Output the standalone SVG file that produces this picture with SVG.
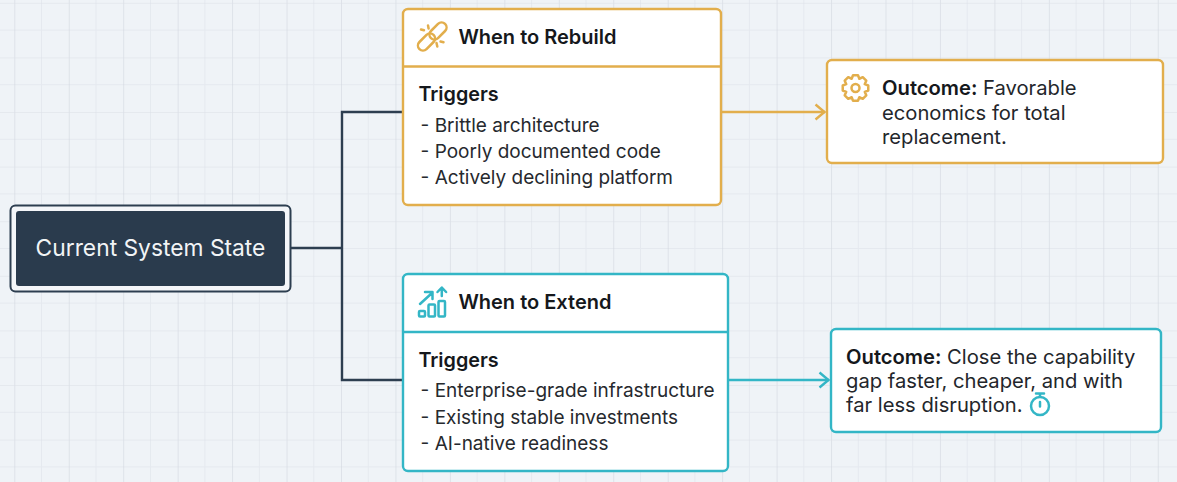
<svg xmlns="http://www.w3.org/2000/svg" width="1177" height="482" viewBox="0 0 1177 482">
<defs>
<pattern id="grid" patternUnits="userSpaceOnUse" x="14.3" y="2.8" width="54.45" height="54.6">
<path d="M27.2 0V54.6M0 27.3H54.45" fill="none" stroke="#e5e9ef" stroke-width="1"/>
<path d="M0 0V54.6" fill="none" stroke="#d2d7df" stroke-width="1.2"/>
<path d="M0 0H54.45" fill="none" stroke="#dbdfe6" stroke-width="1.2"/>
</pattern>
<marker id="arrowGold" viewBox="0 0 14 18" refX="12.5" refY="9" markerWidth="14" markerHeight="18" markerUnits="userSpaceOnUse" orient="auto"><path d="M3 1.500L12 9L3 16.500" fill="none" stroke="#e2ae4c" stroke-width="2.400"/></marker>
<marker id="arrowTeal" viewBox="0 0 14 18" refX="12.5" refY="9" markerWidth="14" markerHeight="18" markerUnits="userSpaceOnUse" orient="auto"><path d="M3 1.500L12 9L3 16.500" fill="none" stroke="#33b6c6" stroke-width="2.400"/></marker>
</defs>
<style>
text{font-family:Inter,"Liberation Sans",sans-serif;fill:#23262b;font-size:20.200px}
.title{font-weight:600;fill:#15181c;font-size:20px}
.head{font-weight:600;fill:#15181c;font-size:19.800px}
.body{fill:#26292e;font-size:19px}
.box{fill:#fff;stroke-width:2.400}
.gold{stroke:#e2ae4c}
.teal{stroke:#33b6c6}
.icon{fill:none;stroke-width:2.500;stroke-linecap:round;stroke-linejoin:round}
.link{fill:none;stroke-width:2.400}
</style>
<rect width="1177" height="482" fill="#eff3f7"/>
<rect width="1177" height="482" fill="url(#grid)"/>
<g id="connectors">
<path class="link" stroke="#2d3e50" d="M290 248H342M403 112H342V380H403"/>
<path class="link gold" d="M722 112H825" marker-end="url(#arrowGold)"/>
<path class="link teal" d="M728 380H829" marker-end="url(#arrowTeal)"/>
</g>
<g id="node-current">
<rect x="10.500" y="205.500" width="280" height="86" rx="5" fill="#f4f6f9" stroke="#2d3e50" stroke-width="2"/>
<rect x="16" y="211" width="269" height="75" rx="3" fill="#2a3b4d"/>
<text x="150.500" y="255.800" text-anchor="middle" style="fill:#f2f4f6;font-size:22.800px">Current System State</text>
</g>
<g id="node-rebuild">
<rect class="box gold" x="403" y="9" width="318" height="196" rx="5"/>
<path class="gold" stroke-width="2.400" d="M403 66.500H721"/>
<g class="icon gold">
<rect x="-10" y="-5" width="20" height="10" rx="5" transform="translate(438 31) rotate(-45)"/>
<rect x="-10" y="-5" width="20" height="10" rx="5" transform="translate(426.500 42) rotate(-45)"/>
<path d="M421 29.500l3 .8M428 25.500l.6 3M436.500 43l.8 3.500M440.500 41.500l3 .8"/>
</g>
<text class="title" x="458.400" y="43.500">When to Rebuild</text>
<text class="head" x="418.400" y="101">Triggers</text>
<text class="body" x="420.600" y="131.500">- Brittle architecture</text>
<text class="body" x="420.600" y="157.500">- Poorly documented code</text>
<text class="body" x="420.600" y="183.500">- Actively declining platform</text>
</g>
<g id="node-extend">
<rect class="box teal" x="403" y="274" width="325" height="197" rx="5"/>
<path class="teal" stroke-width="2.400" d="M403 332H728"/>
<g class="icon teal">
<rect x="419" y="311" width="6" height="5.500" rx="1"/>
<rect x="428.500" y="304.500" width="6.500" height="12" rx="1"/>
<rect x="438.500" y="301" width="6.500" height="15.500" rx="1"/>
<path d="M420 304l12-11M425 292h7.500v7M441.800 296v-8M437.500 292l4.300-4.500 4.300 4.500"/>
</g>
<text class="title" x="458.400" y="309">When to Extend</text>
<text class="head" x="418.400" y="367">Triggers</text>
<text class="body" x="420.600" y="397">- Enterprise-grade infrastructure</text>
<text class="body" x="420.600" y="423.500">- Existing stable investments</text>
<text class="body" x="420.600" y="449.500">- AI-native readiness</text>
</g>
<g id="node-outcome-rebuild">
<rect class="box gold" x="827" y="60" width="336" height="103" rx="5"/>
<g class="icon gold" transform="translate(855.500 88)">
<path d="M9.240 3.830L10.780 7.270 7.270 10.780 3.830 9.240 2.480 12.760-2.480 12.760-3.830 9.240-7.270 10.780-10.780 7.270-9.240 3.830-12.760 2.480-12.760-2.480-9.240-3.830-10.780-7.270-7.270-10.780-3.830-9.240-2.480-12.760 2.480-12.760 3.830-9.240 7.270-10.780 10.780-7.270 9.240-3.830 12.760-2.480 12.760 2.480Z"/>
<circle r="4"/>
</g>
<text x="882" y="94.500"><tspan class="head" style="font-size:20.200px">Outcome:</tspan> Favorable</text>
<text x="882" y="119.500">economics for total</text>
<text x="882" y="144">replacement.</text>
</g>
<g id="node-outcome-extend">
<rect class="box teal" x="831" y="329" width="330" height="103" rx="5"/>
<text x="846" y="363.500"><tspan class="head" style="font-size:20.200px">Outcome:</tspan> Close the capability</text>
<text x="846" y="388">gap faster, cheaper, and with</text>
<text x="846" y="412">far less disruption.</text>
<g class="icon teal">
<circle cx="1040" cy="406" r="9"/>
<path d="M1040 402v4.500M1036 393.500h8M1040 393.500v3"/>
</g>
</g>
</svg>
